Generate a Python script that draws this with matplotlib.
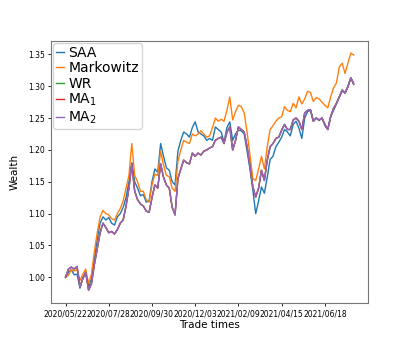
import numpy as np
from matplotlib import pyplot as plt

# trade index (every 3rd trading day) and wealth curves
step = 3
saa = [1.000, 1.008, 1.012, 1.004, 1.005, 0.983, 1.000, 1.005, 0.985, 0.998,
       1.030, 1.060, 1.085, 1.095, 1.090, 1.094, 1.085, 1.082, 1.095, 1.100,
       1.110, 1.125, 1.150, 1.180, 1.150, 1.140, 1.128, 1.130, 1.118, 1.120,
       1.150, 1.170, 1.165, 1.210, 1.190, 1.172, 1.168, 1.150, 1.145, 1.198,
       1.215, 1.228, 1.225, 1.220, 1.235, 1.244, 1.228, 1.225, 1.222, 1.215,
       1.218, 1.215, 1.236, 1.232, 1.228, 1.212, 1.235, 1.244, 1.215, 1.225,
       1.231, 1.230, 1.225, 1.198, 1.170, 1.137, 1.100, 1.120, 1.142, 1.132,
       1.157, 1.185, 1.190, 1.205, 1.212, 1.220, 1.232, 1.228, 1.222, 1.240,
       1.245, 1.234, 1.218, 1.250, 1.260, 1.262, 1.245, 1.250, 1.246, 1.250,
       1.238, 1.232, 1.252, 1.262, 1.272, 1.283, 1.292, 1.290, 1.300, 1.313,
       1.305]
markowitz = [1.000, 1.003, 1.012, 1.010, 1.012, 0.995, 1.005, 1.013, 0.990, 1.005,
             1.040, 1.070, 1.095, 1.105, 1.100, 1.098, 1.092, 1.090, 1.100, 1.108,
             1.120, 1.140, 1.160, 1.210, 1.160, 1.150, 1.135, 1.135, 1.122, 1.118,
             1.145, 1.162, 1.160, 1.198, 1.176, 1.160, 1.158, 1.140, 1.135, 1.182,
             1.200, 1.215, 1.212, 1.210, 1.225, 1.222, 1.225, 1.230, 1.225, 1.220,
             1.222, 1.235, 1.250, 1.245, 1.248, 1.245, 1.262, 1.283, 1.247, 1.260,
             1.270, 1.268, 1.258, 1.228, 1.192, 1.155, 1.152, 1.170, 1.190, 1.170,
             1.205, 1.232, 1.238, 1.245, 1.250, 1.252, 1.268, 1.262, 1.260, 1.273,
             1.266, 1.283, 1.272, 1.280, 1.292, 1.290, 1.276, 1.282, 1.280, 1.275,
             1.270, 1.266, 1.283, 1.297, 1.305, 1.330, 1.336, 1.320, 1.336, 1.352,
             1.349]
ma2 = [1.000, 1.013, 1.016, 1.013, 1.017, 0.985, 0.998, 1.008, 0.980, 0.990,
       1.020, 1.045, 1.070, 1.085, 1.078, 1.070, 1.072, 1.068, 1.075, 1.085,
       1.090, 1.112, 1.140, 1.178, 1.135, 1.122, 1.115, 1.112, 1.104, 1.102,
       1.125, 1.145, 1.140, 1.178, 1.157, 1.145, 1.140, 1.110, 1.098, 1.155,
       1.170, 1.184, 1.180, 1.178, 1.195, 1.190, 1.195, 1.192, 1.198, 1.200,
       1.203, 1.205, 1.215, 1.218, 1.220, 1.210, 1.228, 1.236, 1.200, 1.215,
       1.236, 1.232, 1.228, 1.205, 1.175, 1.142, 1.126, 1.140, 1.168, 1.152,
       1.184, 1.205, 1.210, 1.218, 1.220, 1.231, 1.240, 1.232, 1.232, 1.247,
       1.250, 1.245, 1.232, 1.258, 1.262, 1.263, 1.245, 1.250, 1.247, 1.250,
       1.240, 1.232, 1.252, 1.265, 1.273, 1.283, 1.294, 1.289, 1.299, 1.313,
       1.303]
wr = list(ma2)
ma1 = list(ma2)

tick_pos = [0, 45, 90, 135, 180, 225, 270]
tick_labels = ["2020/05/22", "2020/07/28", "2020/09/30", "2020/12/03",
               "2021/02/09", "2021/04/15", "2021/06/18"]

x = np.arange(len(saa)) * step

fig = plt.figure(figsize=(4.09, 3.41), dpi=100)
ax = fig.add_subplot(111)
ax.plot(x, saa, color="tab:blue", lw=1.0, label="SAA")
ax.plot(x, markowitz, color="tab:orange", lw=1.0, label="Markowitz")
ax.plot(x, wr, color="tab:green", lw=1.0, label="WR")
ax.plot(x, ma1, color="tab:red", lw=1.0, label="MA$_1$")
ax.plot(x, ma2, color="tab:purple", lw=1.0, label="MA$_2$")

ax.set_xticks(tick_pos)
ax.set_xticklabels(tick_labels)
ax.tick_params(labelsize=5.5, length=2.5, width=0.6, pad=2)
ax.set_ylim(0.959, 1.371)
ax.set_xlim(-15, 315)
ax.set_xlabel("Trade times", fontsize=7.5, labelpad=1)
ax.set_ylabel("Wealth", fontsize=7.5, labelpad=6)
for s in ax.spines.values():
    s.set_linewidth(0.8)
    s.set_color("#777777")

ax.legend(loc="upper left", fontsize=10, handlelength=0.6, handletextpad=0.3,
          borderpad=0.2, labelspacing=0.1, borderaxespad=0.15, framealpha=0.8)

plt.savefig("out.png", dpi=100)
